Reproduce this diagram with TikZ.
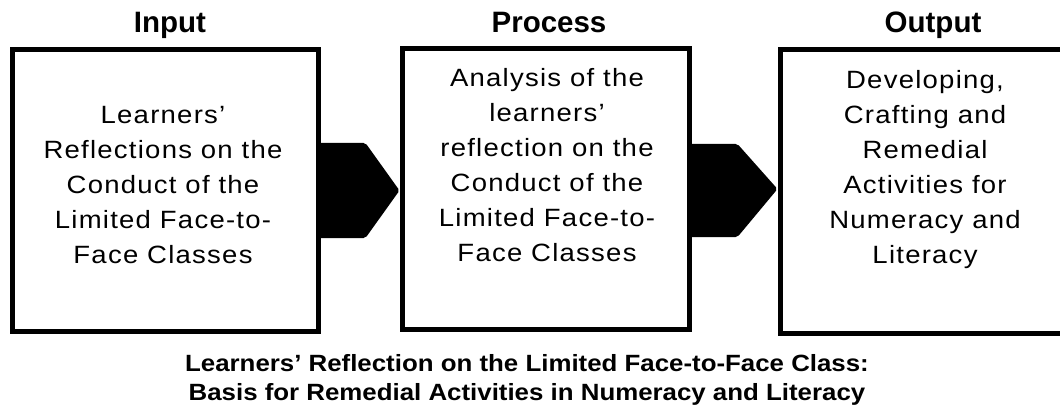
\documentclass[tikz,border=0pt]{standalone}
\usepackage{fontspec}
\setmainfont{Liberation Sans}
\newfontfamily\boxfont[FakeStretch=1.1, LetterSpace=5]{Liberation Sans}
\newfontfamily\capfont[FakeStretch=1.1]{Liberation Sans}
\usetikzlibrary{calc}
\tikzset{
  stagebox/.style={draw, line width=5pt, minimum width=#1, minimum height=281, inner sep=0pt},
  stagetext/.style={align=center, font=\boxfont\fontsize{25}{35}\selectfont, inner sep=0pt},
  stagetitle/.style={anchor=base, font=\bfseries\fontsize{29.5}{34}\selectfont, inner sep=0pt},
  flowarrow/.style={fill=black, rounded corners=2pt}
}
\begin{document}
\begin{tikzpicture}[x=1pt, y=-1pt]
\useasboundingbox (0,0) rectangle (1060,409);
\clip (0,0) rectangle (1060,409);
\node[stagetitle] (tin) at (170,33) {Input};
\node[stagetitle] (tproc) at (549,33) {Process};
\node[stagetitle] (tout) at (933,33) {Output};
\node[stagebox=306] (inbox) at (165,190.5) {};
\node[stagebox=287] (procbox) at (545.5,189) {};
\node[stagebox=295, minimum height=283] (outbox) at (927.5,191.5) {};
\node[stagetext] (intext) at (163,185) {Learners’\\Reflections on the\\Conduct of the\\Limited Face-to-\\Face Classes};
\node[stagetext] (proctext) at (547,165) {Analysis of the\\learners’\\reflection on the\\Conduct of the\\Limited Face-to-\\Face Classes};
\node[stagetext] (outtext) at (925,170) {Developing,\\Crafting and\\Remedial\\Activities for\\Numeracy and\\Literacy};
\fill[flowarrow] ($(inbox.east)+(-2,-47.5)$) -- ($(inbox.east)+(45,-47.5)$) -- (procbox.west |- inbox.east) -- ($(inbox.east)+(45,47.5)$) -- ($(inbox.east)+(-2,47.5)$) -- cycle;
\fill[flowarrow] ($(procbox.east)+(-2,-45)$) -- ($(procbox.east)+(46,-45)$) -- (outbox.west |- procbox.east) -- ($(procbox.east)+(46,48)$) -- ($(procbox.east)+(-2,48)$) -- cycle;
\node[align=center, font=\capfont\bfseries\fontsize{23.5}{28.5}\selectfont, inner sep=0pt] (caption) at (527,380) {Learners’ Reflection on the Limited Face-to-Face Class:\\Basis for Remedial Activities in Numeracy and Literacy};
\end{tikzpicture}
\end{document}
